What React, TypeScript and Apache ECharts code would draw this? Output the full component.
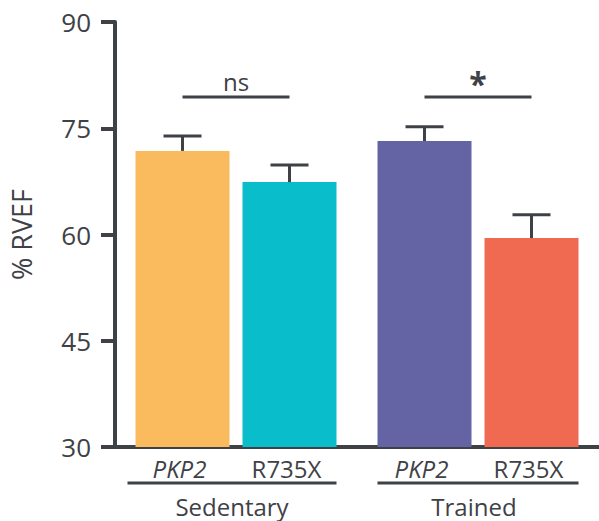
import React, { useEffect, useRef } from "react";
import * as echarts from "echarts";

const categories = ["Sedentary", "Trained"];
const genotypes = ["PKP2", "R735X"];
const pkp2Values = [71.8, 73.2];
const r735xValues = [67.4, 59.5];
const pkp2Errors = [2.1, 2.0];
const r735xErrors = [2.4, 3.3];
const significance = ["ns", "*"];
const significanceLevel = [79.4, 79.4];
const yMin = 30;
const yMax = 90;
const yInterval = 15;

const pkp2Colors = ["#F9BB5E", "#6464A4"];
const r735xColors = ["#0ABDCB", "#F06951"];

const INK = "#3e4146";
const FONT = "'Open Sans', 'Noto Sans', sans-serif";
const BAR_W = 94;
const BAR_GAP = 13;
const HALF = (BAR_W + BAR_GAP) / 2;

export default function App() {
  const ref = useRef<HTMLDivElement>(null);

  useEffect(() => {
    if (!ref.current) return;
    const chart = echarts.init(ref.current, undefined, { renderer: "svg" });

    const errorData: any[] = [];
    categories.forEach((_, i) => {
      errorData.push([i, pkp2Values[i], pkp2Errors[i], -1]);
      errorData.push([i, r735xValues[i], r735xErrors[i], 1]);
    });

    const option: any = {
      animation: false,
      grid: { left: 113, right: 0, top: 22, bottom: 74 },
      xAxis: {
        type: "category",
        data: categories,
        axisLine: { lineStyle: { color: INK, width: 4 } },
        axisTick: { show: false },
        axisLabel: { show: false },
      },
      yAxis: {
        type: "value",
        min: yMin,
        max: yMax,
        interval: yInterval,
        name: "% RVEF",
        nameLocation: "middle",
        nameGap: 80,
        nameRotate: 90,
        nameTextStyle: { color: INK, fontSize: 27, fontFamily: FONT },
        axisLine: { show: true, lineStyle: { color: INK, width: 4 } },
        axisTick: { show: true, length: 14, lineStyle: { color: INK, width: 4 } },
        axisLabel: { color: INK, fontSize: 26, fontFamily: FONT, margin: 24 },
        splitLine: { show: false },
      },
      series: [
        {
          type: "bar",
          name: genotypes[0],
          barWidth: BAR_W,
          barGap: `${(BAR_GAP / BAR_W) * 100}%`,
          data: pkp2Values.map((v, i) => ({ value: v, itemStyle: { color: pkp2Colors[i] } })),
          z: 2,
        },
        {
          type: "bar",
          name: genotypes[1],
          barWidth: BAR_W,
          data: r735xValues.map((v, i) => ({ value: v, itemStyle: { color: r735xColors[i] } })),
          z: 2,
        },
        {
          type: "custom",
          name: "error",
          data: errorData,
          z: 3,
          renderItem: (params: any, api: any) => {
            const c = api.value(0);
            const v = api.value(1);
            const e = api.value(2);
            const s = api.value(3);
            const base = api.coord([c, v]);
            const top = api.coord([c, v + e]);
            const x = base[0] + s * HALF;
            const style = { stroke: INK, lineWidth: 3 };
            return {
              type: "group",
              children: [
                { type: "line", shape: { x1: x, y1: base[1], x2: x, y2: top[1] }, style },
                { type: "line", shape: { x1: x - 19, y1: top[1], x2: x + 19, y2: top[1] }, style },
              ],
            };
          },
        },
        {
          type: "custom",
          name: "significance",
          data: categories.map((_, i) => [i, significanceLevel[i]]),
          z: 3,
          renderItem: (params: any, api: any) => {
            const i = params.dataIndex;
            const c = api.value(0);
            const p = api.coord([c, api.value(1)]);
            const isStar = significance[i] === "*";
            return {
              type: "group",
              children: [
                {
                  type: "line",
                  shape: { x1: p[0] - HALF, y1: p[1], x2: p[0] + HALF, y2: p[1] },
                  style: { stroke: INK, lineWidth: 3 },
                },
                {
                  type: "text",
                  x: p[0],
                  y: p[1] - (isStar ? 14 : 16),
                  style: {
                    text: significance[i],
                    fill: INK,
                    font: isStar ? `bold 32px ${FONT}` : `24px ${FONT}`,
                    align: "center",
                    verticalAlign: "middle",
                  },
                },
              ],
            };
          },
        },
        {
          type: "custom",
          name: "labels",
          data: categories.map((_, i) => [i, yMin]),
          z: 3,
          clip: false,
          renderItem: (params: any, api: any) => {
            const i = params.dataIndex;
            const p = api.coord([api.value(0), api.value(1)]);
            const cx = p[0];
            const y0 = p[1];
            return {
              type: "group",
              children: [
                {
                  type: "text",
                  x: cx - HALF - 3,
                  y: y0 + 21,
                  style: {
                    text: genotypes[0],
                    fill: INK,
                    font: `italic 24px ${FONT}`,
                    align: "center",
                    verticalAlign: "middle",
                  },
                },
                {
                  type: "text",
                  x: cx + HALF - 3,
                  y: y0 + 21,
                  style: {
                    text: genotypes[1],
                    fill: INK,
                    font: `24px ${FONT}`,
                    align: "center",
                    verticalAlign: "middle",
                  },
                },
                {
                  type: "line",
                  shape: {
                    x1: cx - HALF - BAR_W / 2 - (i === 0 ? 8 : 0),
                    y1: y0 + 36,
                    x2: cx + HALF + BAR_W / 2,
                    y2: y0 + 36,
                  },
                  style: { stroke: INK, lineWidth: 3 },
                },
                {
                  type: "text",
                  x: cx - 4,
                  y: y0 + 59,
                  style: {
                    text: categories[i],
                    fill: INK,
                    font: `24px ${FONT}`,
                    align: "center",
                    verticalAlign: "middle",
                  },
                },
              ],
            };
          },
        },
      ],
    };

    chart.setOption(option);
    return () => chart.dispose();
  }, []);

  return (
    <div
      ref={ref}
      style={{ position: "fixed", left: 0, top: 0, width: 599, height: 521, background: "#fff" }}
    />
  );
}
